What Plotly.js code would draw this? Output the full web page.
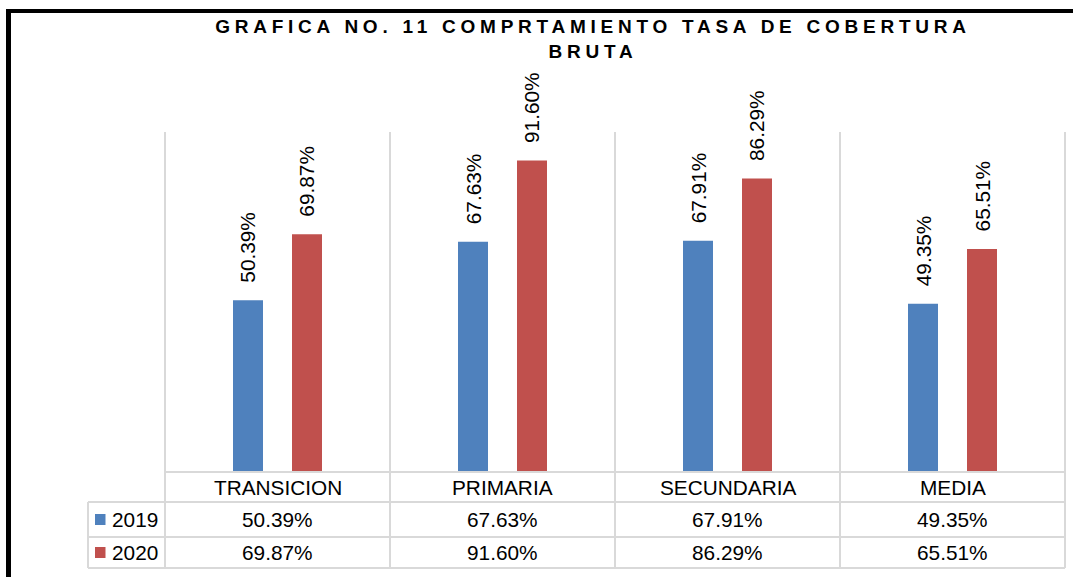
<!DOCTYPE html>
<html>
<head>
<meta charset="utf-8">
<script src="https://cdn.plot.ly/plotly-3.0.1.min.js"></script>
<style>
  html, body { margin: 0; padding: 0; background: #fff; }
  #chart { width: 1073px; height: 577px; }
  .gtitle { letter-spacing: 4.75px; }
</style>
</head>
<body>
<div id="chart"></div>
<script>
// ---- data ----
const categories = ['TRANSICION', 'PRIMARIA', 'SECUNDARIA', 'MEDIA'];
const seriesNames = ['2019', '2020'];
const values2019 = [50.39, 67.63, 67.91, 49.35];
const values2020 = [69.87, 91.60, 86.29, 65.51];
const seriesColors = ['#4f81bd', '#c0504d'];
const titleText = 'GRAFICA NO. 11 COMPRTAMIENTO TASA DE COBERTURA<br>BRUTA';

// ---- layout helpers (pixel -> paper) ----
const W = 1073, H = 577;
const M = {l: 165, r: 8, t: 132, b: 106};
const PW = W - M.l - M.r, PH = H - M.t - M.b;
const px = x => (x - M.l) / PW;
const py = y => (H - M.b - y) / PH;
const fmt = v => v.toFixed(2) + '%';
const FONT = '"Liberation Sans", Arial, sans-serif';
const FS = 20.8;
const gridColor = '#d9d9d9';

const allSeries = [values2019, values2020];

const traces = allSeries.map((vals, i) => ({
  type: 'bar',
  name: seriesNames[i],
  x: categories,
  y: vals,
  marker: {color: seriesColors[i]},
  hoverinfo: 'x+y'
}));

const shapes = [];
const annotations = [];
const line = (x0, y0, x1, y1, color, width) => shapes.push({
  type: 'line', xref: 'paper', yref: 'paper',
  x0: px(x0), y0: py(y0), x1: px(x1), y1: py(y1),
  line: {color: color, width: width}
});

// category separators (plot + table)
for (let i = 0; i <= categories.length; i++) {
  const x = M.l + i * PW / categories.length;
  line(x, 132, x, 568, gridColor, 2);
}
// table horizontal lines
line(165, 472, 1065, 472, gridColor, 2);
line(88, 502, 1065, 502, gridColor, 2);
line(88, 537, 1065, 537, gridColor, 2);
line(88, 568, 1065, 568, gridColor, 2);
line(88, 502, 88, 568, gridColor, 2);

// outer black frame (left + top)
line(8.5, 11, 8.5, 577, '#000', 5);
line(6, 11, 1073, 11, '#000', 4);

// header row: categories
categories.forEach(c => annotations.push({
  x: c, xref: 'x', y: py(487.5), yref: 'paper',
  text: c, showarrow: false, xanchor: 'center', yanchor: 'middle',
  font: {family: FONT, size: FS, color: '#000'}
}));

// data rows + legend keys
const rowY = [519.5, 552.5];
allSeries.forEach((vals, s) => {
  shapes.push({
    type: 'rect', xref: 'paper', yref: 'paper',
    x0: px(95), x1: px(105.5), y0: py(rowY[s] - 5.5), y1: py(rowY[s] + 5.5),
    fillcolor: seriesColors[s], line: {width: 0}
  });
  annotations.push({
    x: px(110), xref: 'paper', y: py(rowY[s]), yref: 'paper',
    text: seriesNames[s], showarrow: false, xanchor: 'left', yanchor: 'middle',
    font: {family: FONT, size: FS, color: '#000'}
  });
  vals.forEach((v, i) => annotations.push({
    x: categories[i], xref: 'x', y: py(rowY[s]), yref: 'paper',
    text: fmt(v), showarrow: false, xanchor: 'center', yanchor: 'middle',
    font: {family: FONT, size: FS, color: '#000'}
  }));
  // rotated data labels above bars
  vals.forEach((v, i) => annotations.push({
    x: categories[i], xref: 'x', y: v, yref: 'y',
    xshift: (s === 0 ? -1 : 1) * 29.5, yshift: 15,
    text: fmt(v), showarrow: false, textangle: -90,
    xanchor: 'center', yanchor: 'bottom',
    font: {family: FONT, size: FS, color: '#000'}
  }));
});

const layout = {
  width: W, height: H,
  margin: M,
  paper_bgcolor: '#fff', plot_bgcolor: '#fff',
  showlegend: false,
  barmode: 'group',
  bargap: 0.4756,
  bargroupgap: 0.4915,
  title: {
    text: titleText,
    x: 593 / W, xref: 'container', xanchor: 'center',
    y: 1 - 33 / H, yref: 'container', yanchor: 'top',
    font: {family: FONT, size: 19, color: '#000', weight: 'bold'}
  },
  xaxis: {
    type: 'category', range: [-0.5, 3.5],
    showgrid: false, showticklabels: false, ticks: '', showline: false, zeroline: false,
    fixedrange: true
  },
  yaxis: {
    range: [0, 100], visible: false, showgrid: false, zeroline: false, fixedrange: true
  },
  shapes: shapes,
  annotations: annotations
};

Plotly.newPlot('chart', traces, layout, {displayModeBar: false, staticPlot: true});
</script>
</body>
</html>
